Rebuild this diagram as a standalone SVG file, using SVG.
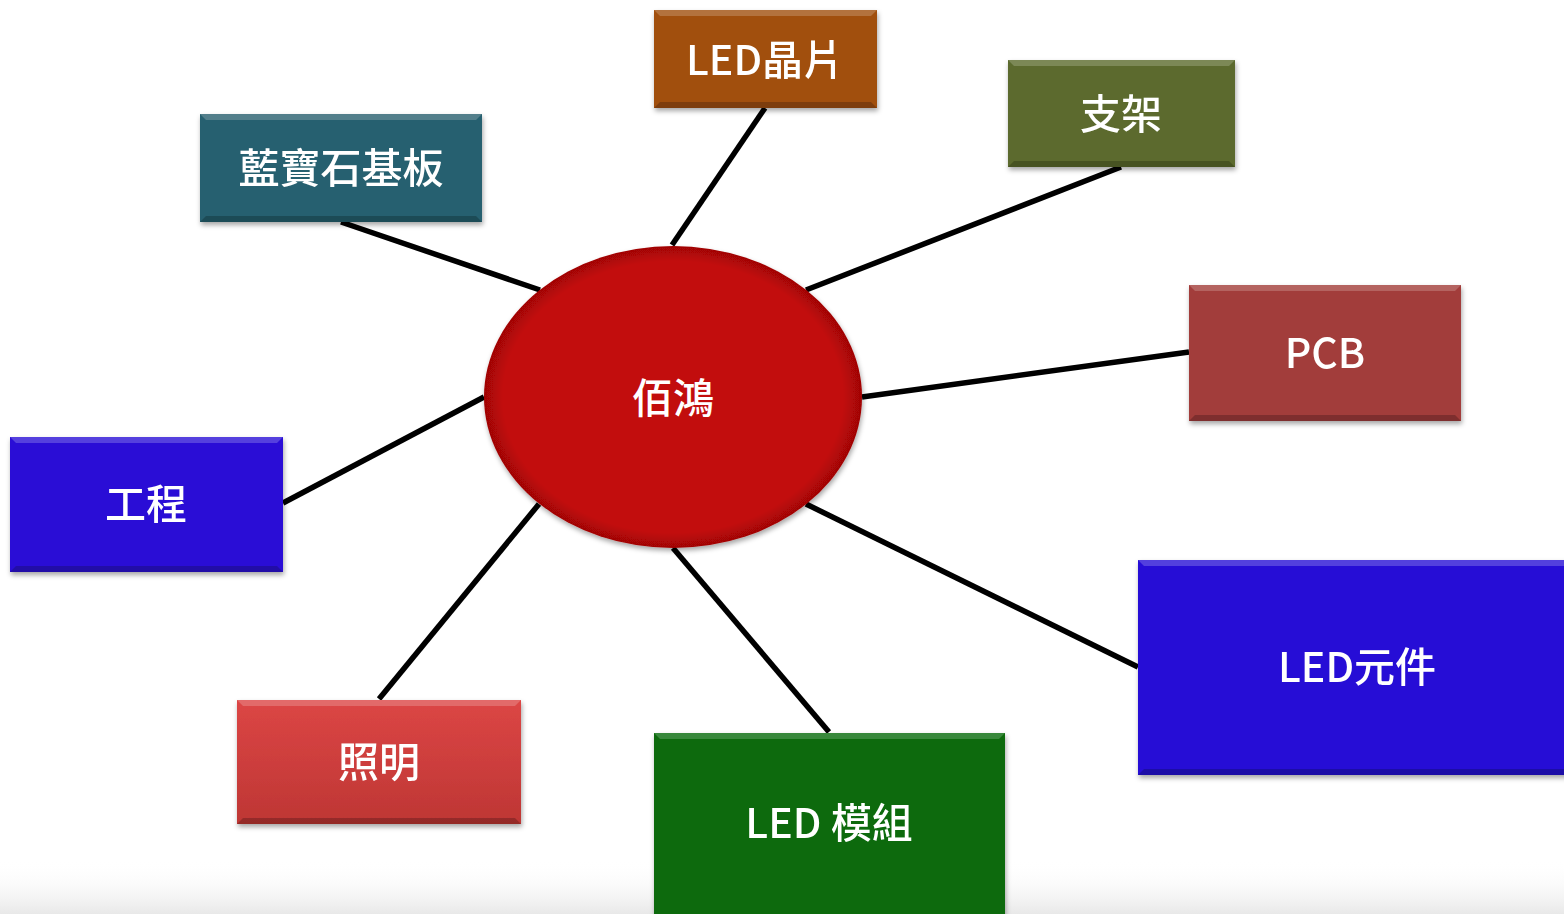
<svg xmlns="http://www.w3.org/2000/svg" width="1564" height="914" viewBox="0 0 1564 914">
<defs>
<style>
.lbl{font-family:"Noto Sans CJK TC","Noto Sans",sans-serif;font-size:41px;font-weight:500;fill:#fff;text-anchor:middle;dominant-baseline:central;}
.conn line{stroke:#000;stroke-width:5.5;stroke-linecap:butt;}
.hi{fill:#fff;opacity:0.2;}
.lo{fill:#000;opacity:0.22;}
</style>
<filter id="sh" x="-10%" y="-10%" width="120%" height="130%">
<feDropShadow dx="1" dy="3" stdDeviation="2.5" flood-color="#000" flood-opacity="0.35"/>
</filter>
<radialGradient id="ell" cx="0.5" cy="0.5" r="0.5">
<stop offset="0.9" stop-color="#C20808"/>
<stop offset="1" stop-color="#A00606"/>
</radialGradient>
<linearGradient id="bg" x1="0" y1="0" x2="0" y2="1">
<stop offset="0" stop-color="#fff" stop-opacity="0"/>
<stop offset="1" stop-color="#e8e8e8"/>
</linearGradient>
<linearGradient id="red" x1="0" y1="0" x2="0" y2="1">
<stop offset="0" stop-color="#DC4645"/>
<stop offset="1" stop-color="#BE3634"/>
</linearGradient>
</defs>
<rect x="0" y="0" width="1564" height="914" fill="#fff"/>
<rect x="0" y="860" width="1564" height="54" fill="url(#bg)"/>
<g class="conn">
<line x1="672" y1="245" x2="765" y2="108"/>
<line x1="540" y1="290" x2="341" y2="222"/>
<line x1="806" y1="290" x2="1121" y2="167"/>
<line x1="862" y1="397" x2="1189" y2="352"/>
<line x1="484" y1="397" x2="283" y2="503"/>
<line x1="539" y1="504" x2="379" y2="699"/>
<line x1="673" y1="548" x2="829" y2="732"/>
<line x1="806" y1="504" x2="1138" y2="667"/>
</g>
<g id="n-center">
<ellipse cx="673" cy="397" rx="189" ry="151" fill="url(#ell)" filter="url(#sh)"/>
<text class="lbl" x="673" y="395">佰鴻</text>
</g>
<g id="n-chip" filter="url(#sh)">
<rect x="654" y="10" width="223" height="98" fill="#A14F0C"/>
<polygon class="hi" points="654,10 877,10 871,16 660,16"/>
<polygon class="lo" points="654,108 877,108 871,102 660,102"/>
<text class="lbl" x="765" y="57">LED晶片</text>
</g>
<g id="n-frame" filter="url(#sh)">
<rect x="1008" y="60" width="227" height="107" fill="#5B6B2E"/>
<polygon class="hi" points="1008,60 1235,60 1229,66 1014,66"/>
<polygon class="lo" points="1008,167 1235,167 1229,161 1014,161"/>
<text class="lbl" x="1121" y="111">支架</text>
</g>
<g id="n-sapphire" filter="url(#sh)">
<rect x="200" y="114" width="282" height="108" fill="#27606F"/>
<polygon class="hi" points="200,114 482,114 476,120 206,120"/>
<polygon class="lo" points="200,222 482,222 476,216 206,216"/>
<text class="lbl" x="341" y="165">藍寶石基板</text>
</g>
<g id="n-pcb" filter="url(#sh)">
<rect x="1189" y="285" width="272" height="136" fill="#A23C3A"/>
<polygon class="hi" points="1189,285 1461,285 1455,291 1195,291"/>
<polygon class="lo" points="1189,421 1461,421 1455,415 1195,415"/>
<text class="lbl" x="1325" y="350">PCB</text>
</g>
<g id="n-eng" filter="url(#sh)">
<rect x="10" y="437" width="273" height="135" fill="#2A10D6"/>
<polygon class="hi" points="10,437 283,437 277,443 16,443"/>
<polygon class="lo" points="10,572 283,572 277,566 16,566"/>
<text class="lbl" x="146" y="501">工程</text>
</g>
<g id="n-comp" filter="url(#sh)">
<rect x="1138" y="560" width="440" height="215" fill="#2810D6"/>
<polygon class="hi" points="1138,560 1578,560 1572,566 1144,566"/>
<polygon class="lo" points="1138,775 1578,775 1572,769 1144,769"/>
<text class="lbl" x="1357" y="664">LED元件</text>
</g>
<g id="n-light" filter="url(#sh)">
<rect x="237" y="700" width="284" height="124" fill="url(#red)"/>
<polygon class="hi" points="237,700 521,700 515,706 243,706"/>
<polygon class="lo" points="237,824 521,824 515,818 243,818"/>
<text class="lbl" x="379" y="759">照明</text>
</g>
<g id="n-module" filter="url(#sh)">
<rect x="654" y="733" width="351" height="190" fill="#086B0A"/>
<polygon class="hi" points="654,733 1005,733 999,739 660,739"/>
<text class="lbl" x="829" y="820">LED 模組</text>
</g>
</svg>
